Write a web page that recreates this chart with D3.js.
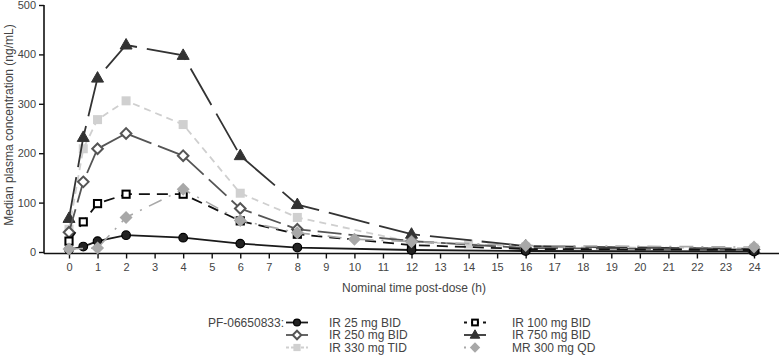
<!DOCTYPE html>
<html><head><meta charset="utf-8">
<script src="https://cdn.jsdelivr.net/npm/d3@7"></script>
<style>
body{margin:0;background:#fff;}
svg{display:block;font-family:"Liberation Sans",Arial,sans-serif;}
</style></head>
<body>
<svg id="chart" width="779" height="358"></svg>
<script>
// ---- data ----
const xTicks = d3.range(0, 25);
const yTicks = [0, 100, 200, 300, 400, 500];

const ir25Times = [0, 0.5, 1, 2, 4, 6, 8, 12, 16, 24];
const ir25Values = [5, 11, 22, 34, 29, 17, 9, 4, 2, 1];

const ir100Times = [0, 0.5, 1, 2, 4, 6, 8, 12, 16, 24];
const ir100Values = [22, 61, 98, 117, 117, 63, 36, 14, 6, 4];

const ir250Times = [0, 0.5, 1, 2, 4, 6, 8, 12, 16, 24];
const ir250Values = [40, 142, 209, 240, 195, 88, 46, 22, 8, 5];

const ir750Times = [0, 0.5, 1, 2, 4, 6, 8, 12, 16, 24];
const ir750Values = [68, 232, 352, 419, 398, 195, 96, 36, 12, 6];

const ir330Times = [0, 0.5, 1, 2, 4, 6, 8, 12, 14, 16, 24];
const ir330Values = [46, 209, 268, 306, 258, 119, 70, 20, 16, 10, 8];

const mr300Times = [0, 1, 2, 4, 6, 8, 10, 12, 16, 24];
const mr300Values = [6, 8, 70, 127, 64, 39, 26, 21, 13, 10];

const seriesNames = ["IR 25 mg BID", "IR 100 mg BID", "IR 250 mg BID", "IR 750 mg BID", "IR 330 mg TID", "MR 300 mg QD"];

// ---- styles ----
const styles = {
  "IR 25 mg BID":  {times: ir25Times,  values: ir25Values,  color:"#1a1a1a", dash:null,        width:1.8, sym:"circle"},
  "IR 100 mg BID": {times: ir100Times, values: ir100Values, color:"#111",    dash:"11,7",      width:1.8, sym:"square"},
  "IR 250 mg BID": {times: ir250Times, values: ir250Values, color:"#555",    dash:"24,7",      width:1.8, sym:"diamond"},
  "IR 750 mg BID": {times: ir750Times, values: ir750Values, color:"#333",    dash:"42,10",     width:1.8, sym:"triangle"},
  "IR 330 mg TID": {times: ir330Times, values: ir330Values, color:"#cfcfcf", dash:"7,5",       width:1.8, sym:"lsquare"},
  "MR 300 mg QD":  {times: mr300Times, values: mr300Values, color:"#a8a8a8", dash:"14,8,2,8",  width:1.6, sym:"gdiamond"}
};
const drawOrder = ["IR 330 mg TID", "IR 750 mg BID", "IR 250 mg BID", "IR 100 mg BID", "IR 25 mg BID", "MR 300 mg QD"];

const svg = d3.select("#chart");
const x = d3.scaleLinear().domain([0, 24]).range([69, 754]);
const y = d3.scaleLinear().domain([0, 500]).range([252, 5]);
const textColor = "#444";

// axes
const yAxis = d3.axisLeft(y).tickValues(yTicks).tickSize(5).tickPadding(3);
const gy = svg.append("g").attr("transform", "translate(44,0)").call(yAxis);
gy.select(".domain").attr("d", "M0,5V253.5").attr("stroke", "#111").attr("stroke-width", 1.6);
gy.selectAll(".tick line").attr("stroke", "#111").attr("stroke-width", 1.4);
gy.selectAll(".tick text").attr("fill", textColor).style("font-size", "11px").style("font-family", "Liberation Sans, Arial, sans-serif");

const xAxis = d3.axisBottom(x).tickValues(xTicks).tickSize(5).tickPadding(5).tickFormat(d3.format("d"));
const gx = svg.append("g").attr("transform", "translate(0,253.5)").call(xAxis);
gx.select(".domain").attr("d", "M44,0H779").attr("stroke", "#111").attr("stroke-width", 1.6);
gx.selectAll(".tick line").attr("stroke", "#111").attr("stroke-width", 1.4);
gx.selectAll(".tick text").attr("fill", textColor).style("font-size", "11px").style("font-family", "Liberation Sans, Arial, sans-serif");

svg.append("text").attr("x", 414).attr("y", 292).attr("text-anchor", "middle")
  .attr("fill", textColor).style("font-size", "12px").text("Nominal time post-dose (h)");
svg.append("text").attr("transform", "translate(13,125) rotate(-90)").attr("text-anchor", "middle")
  .attr("fill", textColor).style("font-size", "12px").text("Median plasma concentration (ng/mL)");

// marker drawing
function drawMarker(g, sym, cx, cy, k) {
  k = k || 1;
  if (sym === "circle") {
    g.append("circle").attr("cx", cx).attr("cy", cy).attr("r", 4.3 * k).attr("fill", "#222").attr("stroke", "#000").attr("stroke-width", 1.2);
  } else if (sym === "square") {
    const h = 3.6 * k;
    g.append("rect").attr("x", cx - h).attr("y", cy - h).attr("width", 2 * h).attr("height", 2 * h).attr("fill", "#fff").attr("stroke", "#000").attr("stroke-width", 2);
  } else if (sym === "diamond") {
    const h = 5.3 * k;
    g.append("path").attr("d", `M${cx},${cy-h}L${cx+h},${cy}L${cx},${cy+h}L${cx-h},${cy}Z`).attr("fill", "#fff").attr("stroke", "#555").attr("stroke-width", 2);
  } else if (sym === "triangle") {
    g.append("path").attr("d", `M${cx},${cy-6.5*k}L${cx+6*k},${cy+4*k}L${cx-6*k},${cy+4*k}Z`).attr("fill", "#333").attr("stroke", "#333").attr("stroke-width", 1);
  } else if (sym === "lsquare") {
    const h = 4.5 * k;
    g.append("rect").attr("x", cx - h).attr("y", cy - h).attr("width", 2 * h).attr("height", 2 * h).attr("fill", "#d0d0d0");
  } else if (sym === "gdiamond") {
    const h = 6.5 * k;
    g.append("path").attr("d", `M${cx},${cy-h}L${cx+h},${cy}L${cx},${cy+h}L${cx-h},${cy}Z`).attr("fill", "#a8a8a8");
  }
}

const line = d3.line().x(d => x(d[0])).y(d => y(d[1]));
const plot = svg.append("g");
drawOrder.forEach(name => {
  const s = styles[name];
  const pts = s.times.map((t, i) => [t, s.values[i]]);
  plot.append("path").datum(pts).attr("d", line).attr("fill", "none")
    .attr("stroke", s.color).attr("stroke-width", s.width)
    .attr("stroke-dasharray", s.dash);
  const mg = plot.append("g");
  pts.forEach(p => drawMarker(mg, s.sym, x(p[0]), y(p[1])));
});

// legend
const leg = svg.append("g");
leg.append("text").attr("x", 284).attr("y", 326.5).attr("text-anchor", "end")
  .attr("fill", textColor).style("font-size", "12px").text("PF-06650833:");
const legendLayout = [
  {name: "IR 25 mg BID",  lx: 286, tx: 329, cy: 322.5},
  {name: "IR 250 mg BID", lx: 286, tx: 329, cy: 335},
  {name: "IR 330 mg TID", lx: 286, tx: 329, cy: 347.5},
  {name: "IR 100 mg BID", lx: 464, tx: 512, cy: 322.5},
  {name: "IR 750 mg BID", lx: 464, tx: 512, cy: 335},
  {name: "MR 300 mg QD",  lx: 464, tx: 512, cy: 347.5}
];
legendLayout.forEach(l => {
  const s = styles[l.name];
  const w = 22;
  let dash = s.dash;
  if (l.name === "IR 100 mg BID") dash = "3,4,8,4";
  if (l.name === "IR 330 mg TID") dash = "3,2";
  if (l.name === "MR 300 mg QD") dash = "2,9";
  if (l.name === "IR 750 mg BID" || l.name === "IR 250 mg BID") dash = null;
  leg.append("line").attr("x1", l.lx).attr("x2", l.lx + w).attr("y1", l.cy).attr("y2", l.cy)
    .attr("stroke", s.color).attr("stroke-width", 1.8).attr("stroke-dasharray", dash);
  drawMarker(leg, s.sym, l.lx + w / 2, l.cy, 0.8);
  leg.append("text").attr("x", l.tx).attr("y", l.cy + 4.3).attr("fill", textColor)
    .style("font-size", "12px").text(l.name);
});
</script>
</body></html>
